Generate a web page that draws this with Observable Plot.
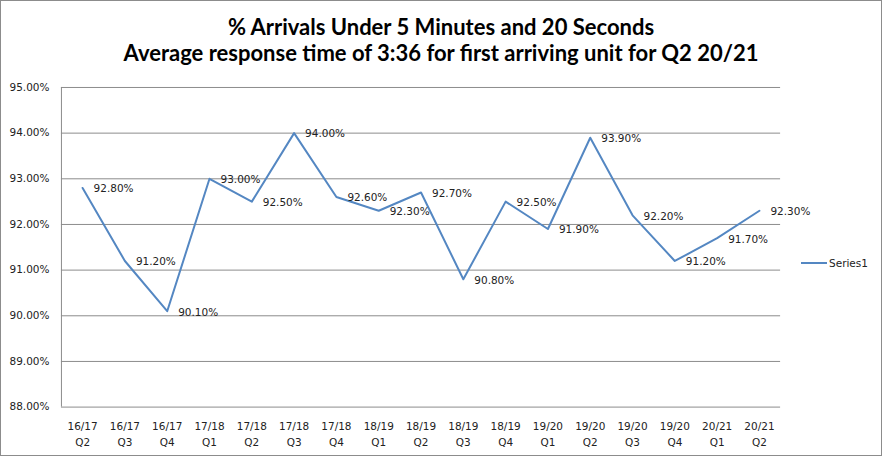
<!DOCTYPE html>
<html><head><meta charset="utf-8">
<script src="https://cdn.jsdelivr.net/npm/d3@7"></script>
<script src="https://cdn.jsdelivr.net/npm/@observablehq/plot@0.6"></script>
<style>
html,body{margin:0;padding:0;background:#fff;}
#wrap{position:relative;width:882px;height:456px;box-sizing:border-box;border:1px solid #8c8c8c;overflow:hidden;}
#title{position:absolute;left:0;top:0;width:880px;height:70px;text-align:center;font-family:Lato,"Open Sans",sans-serif;font-weight:bold;font-size:22px;line-height:26px;padding-top:13px;box-sizing:border-box;color:#000;}
#chart{position:absolute;left:-1px;top:69px;}
#legend{position:absolute;left:800px;top:255px;font-family:"DejaVu Sans",sans-serif;font-size:10.5px;color:#222;display:flex;align-items:center;}
</style></head>
<body>
<div id="wrap">
<div id="title">% Arrivals Under 5 Minutes and 20 Seconds<br>Average response time of 3:36 for first arriving unit for Q2 20/21</div>
<div id="chart"></div>
<div id="legend"><svg width="26" height="14"><line x1="0" x2="26" y1="7" y2="7" stroke="#5487c2" stroke-width="2"/></svg><span style="margin-left:2px">Series1</span></div>
</div>
<script>
const years = ["16/17","16/17","16/17","17/18","17/18","17/18","17/18","18/19","18/19","18/19","18/19","19/20","19/20","19/20","19/20","20/21","20/21"];
const quarters = ["Q2","Q3","Q4","Q1","Q2","Q3","Q4","Q1","Q2","Q3","Q4","Q1","Q2","Q3","Q4","Q1","Q2"];
const values = [92.8,91.2,90.1,93.0,92.5,94.0,92.6,92.3,92.7,90.8,92.5,91.9,93.9,92.2,91.2,91.7,92.3];
const yTicks = [88,89,90,91,92,93,94,95];

const data = values.map((v,i)=>({i, v}));
const n = values.length;

const chart = Plot.plot({
  width: 882,
  height: 387,
  marginLeft: 61,
  marginRight: 101,
  marginTop: 17,
  marginBottom: 50,
  style: {fontFamily: "'DejaVu Sans', sans-serif", fontSize: "10.5px", color: "#222", background: "transparent"},
  x: {domain: [-0.5, n - 0.5], label: null},
  y: {domain: [88, 95], label: null},
  marks: [
    Plot.gridY(yTicks, {stroke: "#8c8c8c", strokeOpacity: 1}),
    Plot.ruleX([-0.5], {stroke: "#8c8c8c"}),
    Plot.axisX({ticks: d3.range(n), tickFormat: i => years[i] + "\n" + quarters[i], tickSize: 0, tickPadding: 12, lineHeight: 1.5, fontSize: "10.5px"}),
    Plot.axisY({ticks: yTicks, tickFormat: d => d.toFixed(2) + "%", tickSize: 0, tickPadding: 12}),
    Plot.line(data, {x: "i", y: "v", stroke: "#5487c2", strokeWidth: 2}),
    Plot.text(data, {x: "i", y: "v", text: d => d.v.toFixed(2) + "%", textAnchor: "start", dx: 11, dy: 1, fill: "#222", fontSize: "10.5px"})
  ]
});
document.getElementById("chart").appendChild(chart);
</script>
</body></html>
